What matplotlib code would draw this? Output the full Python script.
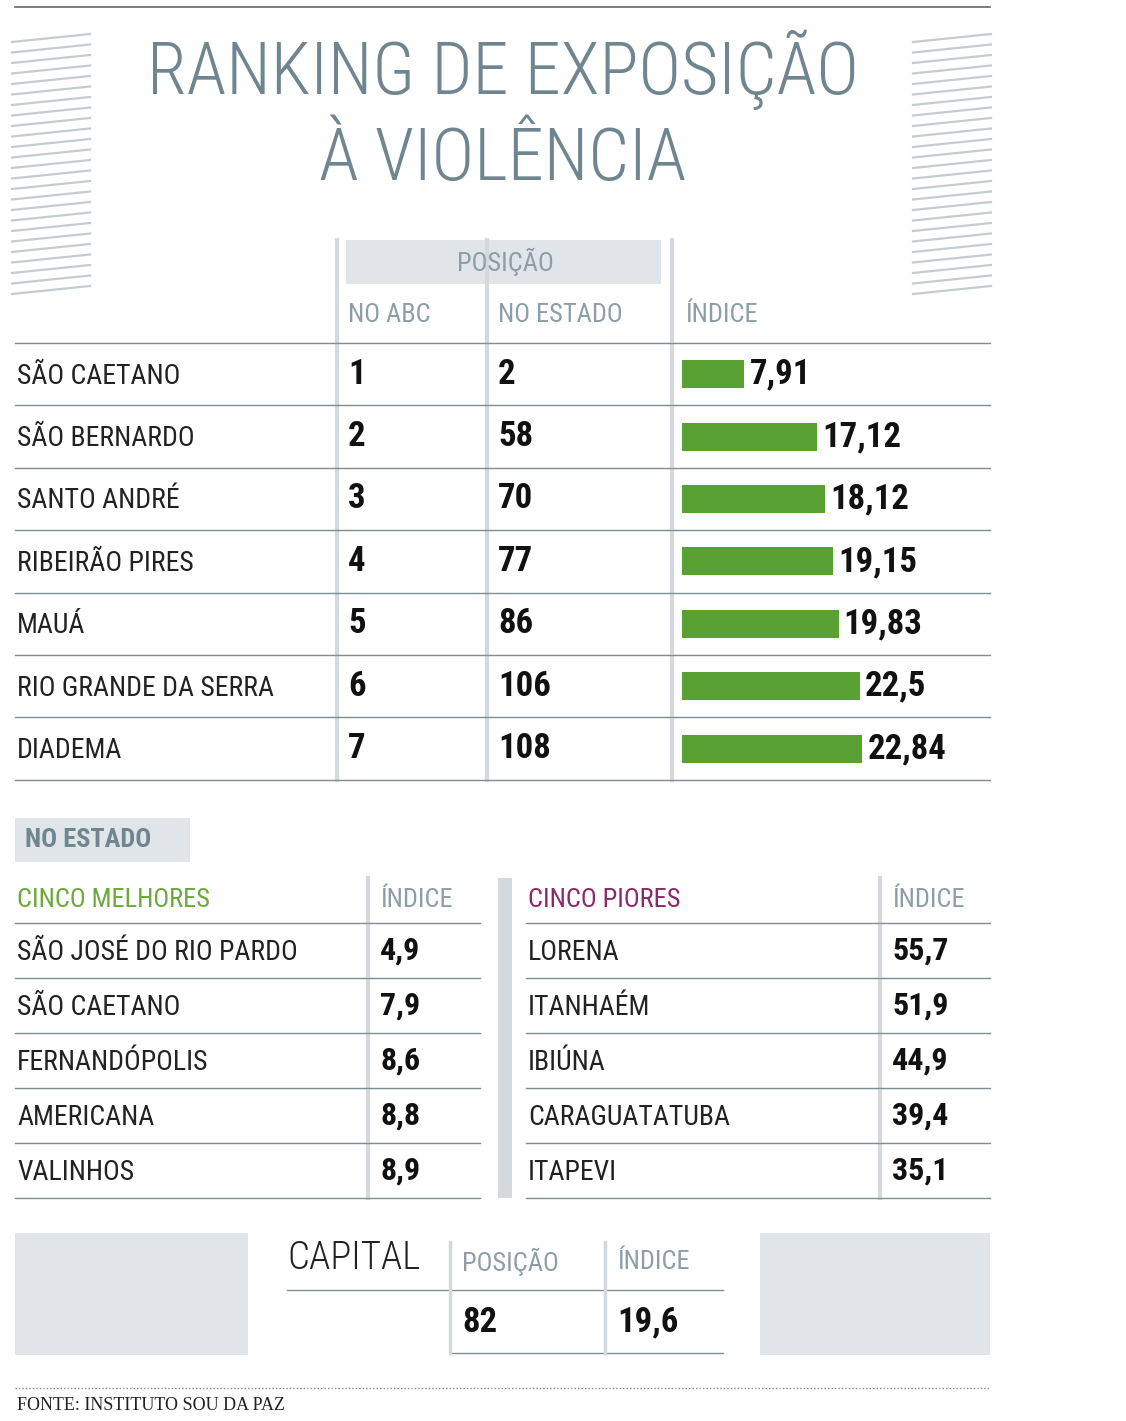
import matplotlib
matplotlib.use("Agg")
import matplotlib.pyplot as plt
from matplotlib import font_manager as fm
from matplotlib.patches import Rectangle

names = {f.name for f in fm.fontManager.ttflist}
FN = "DejaVu Sans"
for cand in ("Roboto Condensed", "Open Sans Condensed", "Liberation Sans Narrow", "Lato", "Liberation Sans"):
    if cand in names:
        FN = cand
        break
FS = "Liberation Serif"

# ---- data ----
cities = ["SÃO CAETANO", "SÃO BERNARDO", "SANTO ANDRÉ", "RIBEIRÃO PIRES", "MAUÁ",
          "RIO GRANDE DA SERRA", "DIADEMA"]
pos_abc = [1, 2, 3, 4, 5, 6, 7]
pos_estado = [2, 58, 70, 77, 86, 106, 108]
indice = [7.91, 17.12, 18.12, 19.15, 19.83, 22.5, 22.84]

best_names = ["SÃO JOSÉ DO RIO PARDO", "SÃO CAETANO", "FERNANDÓPOLIS", "AMERICANA", "VALINHOS"]
best_vals = [4.9, 7.9, 8.6, 8.8, 8.9]
worst_names = ["LORENA", "ITANHAÉM", "IBIÚNA", "CARAGUATATUBA", "ITAPEVI"]
worst_vals = [55.7, 51.9, 44.9, 39.4, 35.1]
capital_pos = 82
capital_idx = 19.6

def fmt(v):
    return ("%g" % v).replace(".", ",")

W, H = 1126, 1421
fig = plt.figure(figsize=(W/100, H/100), dpi=100)
ax = fig.add_axes([0, 0, 1, 1])
ax.set_xlim(0, W); ax.set_ylim(H, 0); ax.axis("off")

GRAY = "#6f8690"; LGRAY = "#8d9ea6"; BOX = "#dfe5e8"; SEP = "#d3d9dc"; LINE = "#7f8e95"
GREEN = "#5aa133"; TXT = "#222222"

ax.plot([15, 990], [7, 7], color="#666666", lw=1.2)

for x0 in (12, 913):
    y = 38
    while y < 300:
        ax.plot([x0, x0+78], [y+4, y-4], color="#c5ccd0", lw=1.6)
        y += 10.5

ax.text(503, 70, "RANKING DE EXPOSIÇÃO", fontsize=52, color=GRAY, ha="center", va="center", family=FN, weight="light")
ax.text(503, 160, "À VIOLÊNCIA", fontsize=52, color=GRAY, ha="center", va="center", family=FN, weight="light")

ax.add_patch(Rectangle((346, 240), 315, 44, color=BOX, lw=0))
ax.text(505, 262, "POSIÇÃO", fontsize=19, color=LGRAY, ha="center", va="center", family=FN)
for x in (337, 487, 672):
    ax.plot([x, x], [240, 780], color=SEP, lw=3)
for x, t in ((348, "NO ABC"), (498, "NO ESTADO"), (685, "ÍNDICE")):
    ax.text(x, 315, t, fontsize=19, color=LGRAY, ha="left", va="center", family=FN)

row_h = 62.4
y0 = 343
for i in range(8):
    ax.plot([15, 990], [y0 + i*row_h]*2, color=LINE, lw=1)
ys = [y0 + (i+0.5)*row_h for i in range(len(cities))]
scale = 7.9
ax.barh(ys, [v*scale for v in indice], left=682, height=28, color=GREEN)
for y, c, a, e, v in zip(ys, cities, pos_abc, pos_estado, indice):
    ax.text(17, y+2, c, fontsize=20, color=TXT, va="center", family=FN)
    ax.text(348, y, str(a), fontsize=25, weight="bold", color="#111", va="center", family=FN)
    ax.text(498, y, str(e), fontsize=25, weight="bold", color="#111", va="center", family=FN)
    ax.text(682 + v*scale + 5, y, fmt(v), fontsize=25, weight="bold", color="#111", va="center", family=FN)

ax.add_patch(Rectangle((15, 818), 175, 44, color=BOX, lw=0))
ax.text(25, 840, "NO ESTADO", fontsize=19, weight="bold", color=GRAY, va="center", family=FN)

ax.add_patch(Rectangle((498, 878), 14, 320, color=SEP, lw=0))
def small_table(x0, x1, xsep, title, tcol, nm, vals):
    ax.text(x0+2, 900, title, fontsize=19, color=tcol, va="center", family=FN)
    ax.text(xsep+12, 900, "ÍNDICE", fontsize=19, color=LGRAY, va="center", family=FN)
    ax.plot([xsep, xsep], [878, 1198], color=SEP, lw=3)
    for i in range(6):
        ax.plot([x0, x1], [923 + i*55]*2, color=LINE, lw=1)
    for i, (n, v) in enumerate(zip(nm, vals)):
        y = 923 + (i+0.5)*55
        ax.text(x0+2, y+2, n, fontsize=20, color=TXT, va="center", family=FN)
        ax.text(xsep+12, y, fmt(v), fontsize=23, weight="bold", color="#111", va="center", family=FN)

small_table(15, 480, 368, "CINCO MELHORES", "#6aaa3a", best_names, best_vals)
small_table(526, 990, 880, "CINCO PIORES", "#8b2a6b", worst_names, worst_vals)

ax.add_patch(Rectangle((15, 1233), 233, 122, color=BOX, lw=0))
ax.add_patch(Rectangle((760, 1233), 230, 122, color=BOX, lw=0))
ax.text(287, 1258, "CAPITAL", fontsize=28, color="#222", va="center", family=FN, weight="light")
ax.text(462, 1262, "POSIÇÃO", fontsize=19, color=LGRAY, va="center", family=FN)
ax.text(617, 1262, "ÍNDICE", fontsize=19, color=LGRAY, va="center", family=FN)
ax.plot([287, 723], [1290, 1290], color=LINE, lw=1)
ax.plot([450, 723], [1353, 1353], color=LINE, lw=1)
for x in (450, 605):
    ax.plot([x, x], [1242, 1353], color=SEP, lw=2.5)
ax.text(462, 1322, str(capital_pos), fontsize=25, weight="bold", color="#111", va="center", family=FN)
ax.text(617, 1322, fmt(capital_idx), fontsize=25, weight="bold", color="#111", va="center", family=FN)

ax.plot([15, 990], [1388, 1388], color="#888", lw=1, ls=(0, (1, 1.5)))
ax.text(17, 1405, "FONTE: INSTITUTO SOU DA PAZ", fontsize=13, color="#222", va="center", family=FS)

fig.savefig("out.png", dpi=100, facecolor="white")
